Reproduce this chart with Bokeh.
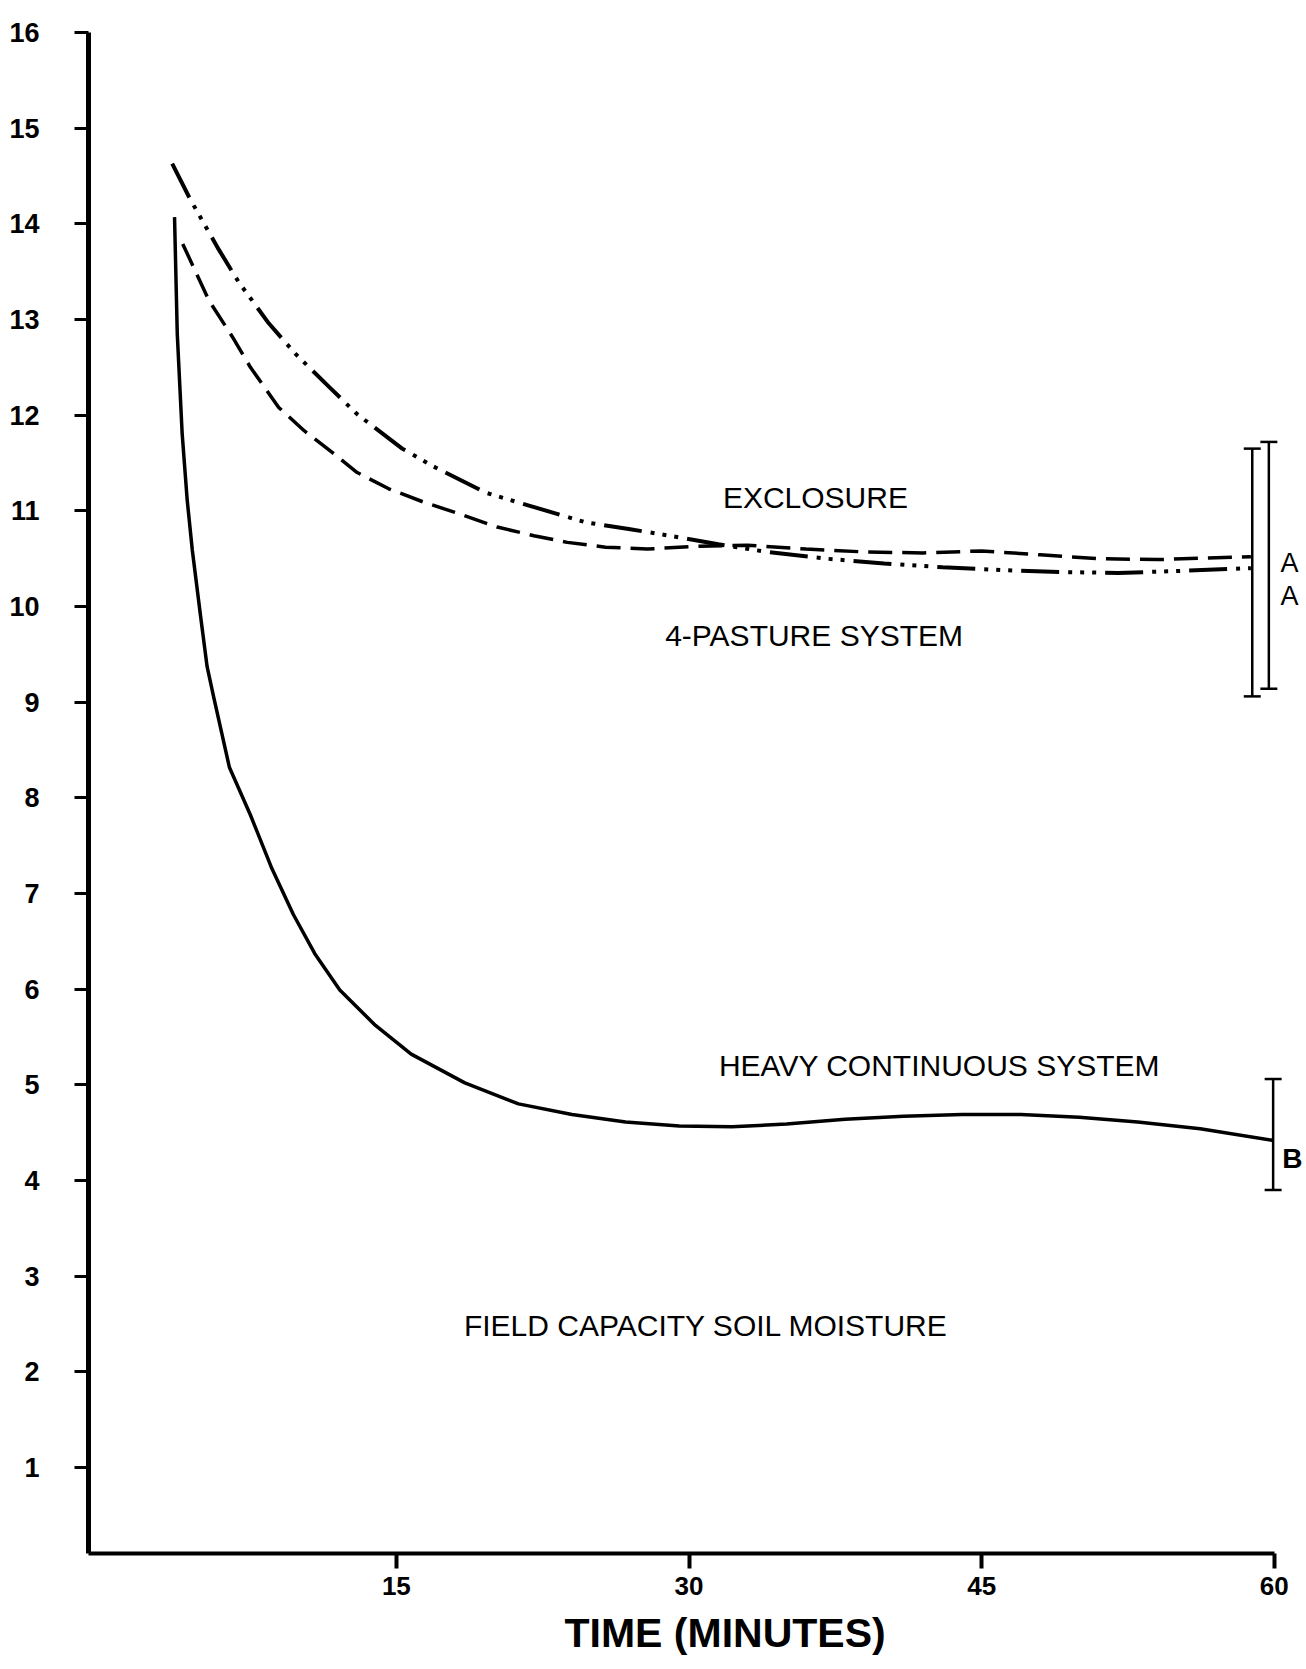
from bokeh.plotting import figure
from bokeh.models import Range1d, Label, Whisker, TeeHead, ColumnDataSource, FixedTicker, Title
from bokeh.embed import file_html
from bokeh.resources import INLINE

# ---- data (time in minutes, infiltration value) ----
heavy_t = [3.63, 3.77, 4.02, 4.28, 4.54, 4.97, 5.30, 5.64, 6.44, 7.52, 8.62, 9.72, 10.82, 12.10,
           13.93, 15.76, 18.51, 21.26, 24.0, 26.75, 29.5, 32.2, 35.0, 38.0, 41.0, 44.0, 47.0,
           50.0, 53.0, 56.2, 59.9]
heavy_v = [14.07, 12.85, 11.81, 11.11, 10.59, 9.89, 9.37, 9.05, 8.32, 7.82, 7.26, 6.78, 6.37, 5.99,
           5.62, 5.32, 5.02, 4.80, 4.69, 4.61, 4.57, 4.56, 4.59, 4.64, 4.67, 4.69, 4.69,
           4.66, 4.61, 4.54, 4.42]

dashed_t = [4.05, 5.39, 6.59, 7.52, 8.97, 10.26, 11.71, 12.99, 14.61, 16.41, 18.20, 20.17,
            22.05, 23.76, 25.72, 27.86, 30.5, 33.0, 36.0, 39.0, 42.0, 45.0, 48.0, 51.0, 54.0, 58.8]
dashed_v = [13.79, 13.20, 12.82, 12.50, 12.08, 11.84, 11.61, 11.40, 11.23, 11.09, 10.97, 10.83,
            10.74, 10.67, 10.62, 10.60, 10.63, 10.64, 10.60, 10.57, 10.56, 10.58, 10.54, 10.50, 10.49, 10.52]

dotdash_t = [3.51, 4.45, 5.90, 6.92, 8.46, 9.83, 11.63, 12.99, 15.30, 16.84, 19.57, 21.71,
             24.69, 26.91, 29.0, 31.5, 34.0, 37.0, 40.0, 43.0, 46.0, 49.0, 52.0, 55.0, 58.8]
dotdash_v = [14.63, 14.25, 13.73, 13.39, 12.96, 12.64, 12.28, 12.01, 11.65, 11.47, 11.19, 11.06,
             10.88, 10.81, 10.74, 10.65, 10.57, 10.50, 10.45, 10.41, 10.38, 10.36, 10.35, 10.37, 10.40]

err_t = [58.87, 59.72, 59.94]
err_hi = [11.65, 11.72, 5.06]
err_lo = [9.06, 9.14, 3.90]
err_letters = ["A", "A", "B"]

x_ticks = [15, 30, 45, 60]
y_ticks = list(range(1, 17))
x_title = "TIME (MINUTES)"

FONT = "Liberation Sans"

p = figure(frame_width=1218, frame_height=1521,
           x_range=Range1d(-0.78, 61.65), y_range=Range1d(0.1, 16),
           output_backend="svg", toolbar_location=None,
           min_border_left=88, min_border_right=0, min_border_top=32, min_border_bottom=100)
p.outline_line_color = None
p.grid.visible = False
p.background_fill_color = "white"
p.border_fill_color = "white"

xa = p.xaxis[0]
xa.ticker = FixedTicker(ticks=x_ticks)
xa.bounds = (-0.78, 60)
xa.axis_line_width = 4
xa.axis_line_color = "black"
xa.major_tick_line_width = 4
xa.major_tick_out = 15
xa.major_tick_in = 0
xa.minor_tick_out = 0
xa.minor_tick_in = 0
xa.major_label_standoff = 8
xa.major_label_text_font = FONT
xa.major_label_text_font_size = "26px"
xa.major_label_text_font_style = "bold"
xa.major_label_text_color = "black"

p.add_layout(Title(text=x_title, align="left", offset=476, text_font=FONT,
                   text_font_size="41px", text_font_style="bold", text_color="black",
                   standoff=20), "below")

ya = p.yaxis[0]
ya.ticker = FixedTicker(ticks=y_ticks)
ya.bounds = (0.1, 16)
ya.axis_line_width = 5
ya.axis_line_color = "black"
ya.major_tick_line_width = 3
ya.major_tick_out = 14
ya.major_tick_in = 0
ya.minor_tick_out = 0
ya.minor_tick_in = 0
ya.major_label_standoff = 35
ya.major_label_text_font = FONT
ya.major_label_text_font_size = "27px"
ya.major_label_text_font_style = "bold"
ya.major_label_text_color = "black"

p.line(heavy_t, heavy_v, line_width=3.5, line_color="black", line_join="round")
p.line(dashed_t, dashed_v, line_width=3.5, line_color="black", line_dash="24 10")
p.line(dotdash_t, dotdash_v, line_width=4, line_color="black", line_dash="38 9 4 8 4 8 4 9")

src = ColumnDataSource(dict(x=err_t, hi=err_hi, lo=err_lo))
w = Whisker(source=src, base="x", upper="hi", lower="lo", dimension="height",
            line_width=2.5, line_color="black",
            upper_head=TeeHead(size=17, line_width=2.5, line_color="black"),
            lower_head=TeeHead(size=17, line_width=2.5, line_color="black"))
p.add_layout(w)

letter_pos = [(60.78, 10.45), (60.78, 10.11), (60.93, 4.23)]
letter_style = ["normal", "normal", "bold"]
letter_size = ["27px", "27px", "28px"]
for (lx, ly), letter, st, sz in zip(letter_pos, err_letters, letter_style, letter_size):
    p.add_layout(Label(x=lx, y=ly, text=letter, text_align="center", text_baseline="alphabetic",
                       text_font=FONT, text_font_size=sz, text_font_style=st,
                       text_color="black"))

texts = [
    ("EXCLOSURE", 36.48, 11.14),
    ("4-PASTURE SYSTEM", 36.41, 9.70),
    ("HEAVY CONTINUOUS SYSTEM", 42.84, 5.20),
    ("FIELD CAPACITY SOIL MOISTURE", 30.88, 2.48),
]
for txt, tx, ty in texts:
    p.add_layout(Label(x=tx, y=ty, text=txt, text_align="center", text_baseline="alphabetic",
                       text_font=FONT, text_font_size="30px", text_color="black"))

open("out.html", "w").write(file_html(p, INLINE))
